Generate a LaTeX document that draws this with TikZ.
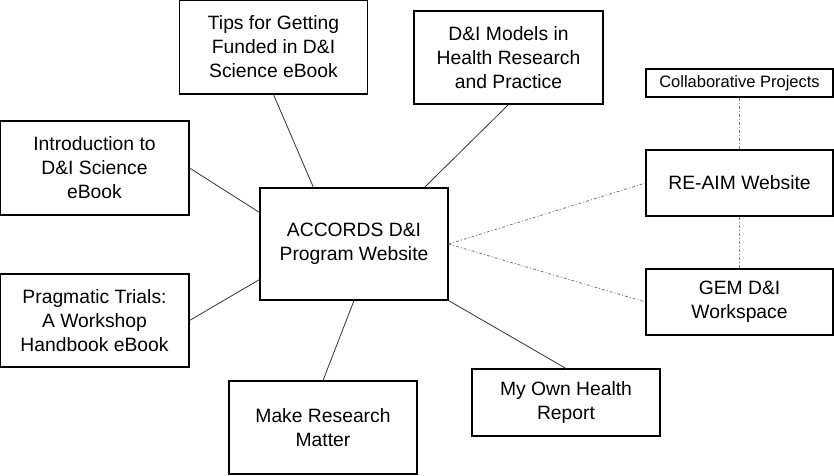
\documentclass[tikz,border=0pt]{standalone}
\usepackage{fontspec}
\setmainfont{Liberation Sans}
\usetikzlibrary{calc}
\definecolor{linegray}{HTML}{333333}
\definecolor{dotgray}{HTML}{7A7A7A}
\begin{document}
\begin{tikzpicture}[x=1pt,y=1pt,
  box/.style={draw=black, line width=1.1pt, inner sep=0pt, align=center,
    minimum width=188pt, font=\fontsize{19.3}{24}\selectfont},
  smallbox/.style={box, font=\fontsize{16.5}{20}\selectfont},
  link/.style={draw=linegray, line width=0.8pt},
  dotlink/.style={draw=dotgray, line width=0.8pt, dash pattern=on 3pt off 2pt on 1pt off 2pt}]
\useasboundingbox (0,0) rectangle (834,475);
\node[box, minimum height=94pt] (tips) at (273.5,428) {Tips for Getting\\Funded in D\&I\\Science eBook};
\node[box, minimum width=189pt, minimum height=93pt] (models) at (508.5,417.5) {D\&I Models in\\Health Research\\and Practice};
\node[smallbox, minimum width=187pt, minimum height=28pt] (collab) at (739.5,392) {Collaborative Projects};
\node[box, minimum width=189pt, minimum height=94pt] (intro) at (94.5,307) {Introduction to\\D\&I Science\\eBook};
\node[box, minimum width=187pt, minimum height=66pt] (reaim) at (739.5,292) {RE-AIM Website};
\node[box, minimum width=188pt, minimum height=112pt] (acc) at (354,231) {ACCORDS D\&I\\Program Website};
\node[box, minimum width=187pt, minimum height=66pt] (gem) at (739.5,173) {GEM D\&I\\Workspace};
\node[box, minimum width=189pt, minimum height=93pt] (prag) at (94.5,154.5) {Pragmatic Trials:\\A Workshop\\Handbook eBook};
\node[box, minimum height=93pt] (mrm) at (323,47.5) {Make Research\\Matter};
\node[box, minimum height=67pt] (myown) at (566,72.5) {My Own Health\\Report};
\draw[link] (tips.south) -- ([xshift=54pt]acc.north west);
\draw[link] (models.south) -- ([xshift=165pt]acc.north west);
\draw[link] (intro.east) -- ([yshift=-25pt]acc.north west);
\draw[link] (prag.east) -- ([yshift=21pt]acc.south west);
\draw[link] (acc.south) -- (mrm.north);
\draw[link] (acc.south east) -- (myown.north);
\draw[dotlink] (acc.east) -- (reaim.west);
\draw[dotlink] (acc.east) -- (gem.west);
\draw[dotlink] (collab.south) -- (reaim.north);
\draw[dotlink] (reaim.south) -- (gem.north);
\end{tikzpicture}
\end{document}
